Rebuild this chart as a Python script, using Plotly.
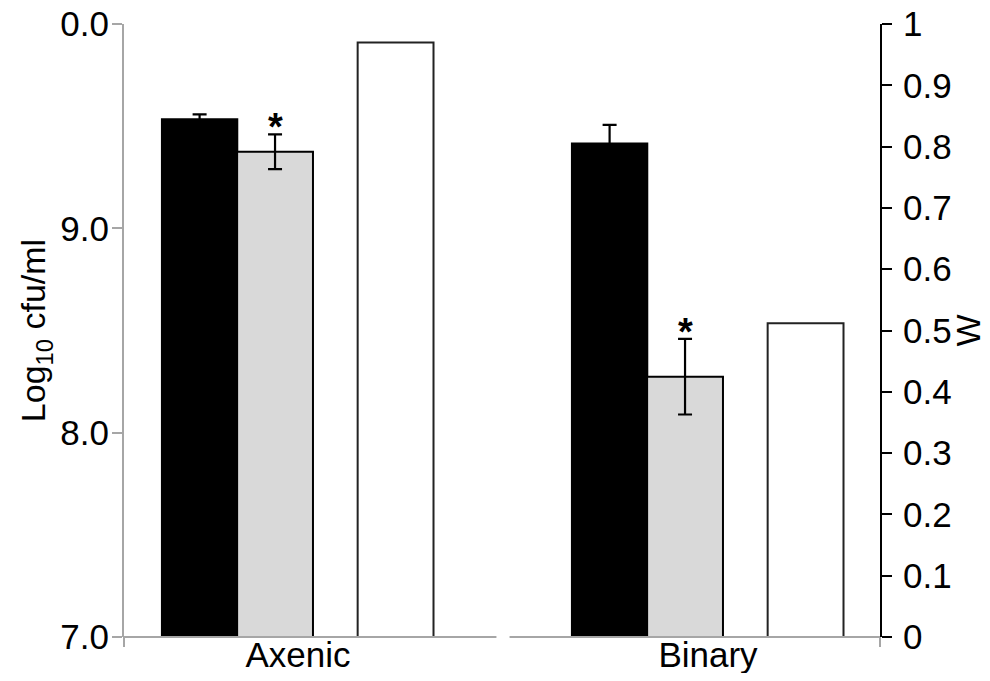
import plotly.graph_objects as go

groups = ["Axenic", "Binary"]
black_vals = [9.535, 9.416]
black_err = [0.023, 0.09]
gray_vals = [9.375, 8.274]
gray_err = [0.085, 0.185]
white_w = [0.97, 0.512]
left_tickvals = [7, 8, 9, 10]
left_ticktext = ["7.0", "8.0", "9.0", "0.0"]
right_tickvals = [0, 0.1, 0.2, 0.3, 0.4, 0.5, 0.6, 0.7, 0.8, 0.9, 1]
right_ticktext = ["0", "0.1", "0.2", "0.3", "0.4", "0.5", "0.6", "0.7", "0.8", "0.9", "1"]
left_title = "Log<sub>10</sub> cfu/ml"
right_title = "W"

# layout offsets within each group (in group units)
OFF_BLACK, OFF_GRAY, OFF_WHITE = -0.240, -0.056, 0.238
BW = 0.185
FONT = "Liberation Sans, Arial, sans-serif"
GRAYLINE = "#a6a6a6"
BASE = 7

xg = list(range(len(groups)))
fig = go.Figure()
fig.add_trace(go.Bar(
    x=[g + OFF_BLACK for g in xg], y=[v - BASE for v in black_vals], base=[BASE] * len(xg),
    width=BW,
    marker=dict(color="black", line=dict(color="black", width=1.5)),
    error_y=dict(type="data", array=black_err, color="black", thickness=2.2, width=7),
    yaxis="y", showlegend=False))
fig.add_trace(go.Bar(
    x=[g + OFF_GRAY for g in xg], y=[v - BASE for v in gray_vals], base=[BASE] * len(xg),
    width=BW,
    marker=dict(color="#d9d9d9", line=dict(color="black", width=2)),
    error_y=dict(type="data", array=gray_err, color="black", thickness=2.2, width=7),
    yaxis="y", showlegend=False))
fig.add_trace(go.Bar(
    x=[g + OFF_WHITE for g in xg], y=white_w, width=BW,
    marker=dict(color="white", line=dict(color="#222222", width=2)),
    yaxis="y2", showlegend=False))

# significance asterisks
for g, v, e in zip(xg, gray_vals, gray_err):
    fig.add_annotation(x=g + OFF_GRAY, y=v + e, xref="x", yref="y", text="<b>*</b>",
                       showarrow=False, yanchor="bottom", yshift=-16,
                       font=dict(family=FONT, size=38, color="black"))

# right axis title
fig.add_annotation(x=1, y=0.5, xref="paper", yref="paper", text=right_title,
                   textangle=-90, showarrow=False, xanchor="center", yanchor="middle",
                   xshift=87, font=dict(family=FONT, size=34, color="black"))

fig.update_layout(
    width=974, height=665,
    margin=dict(l=116, r=102, t=16, b=36),
    paper_bgcolor="white", plot_bgcolor="white",
    font=dict(family=FONT, size=34, color="black"),
    xaxis=dict(range=[-0.4244, 1.4195], tickvals=xg, ticktext=groups,
               showline=False, showgrid=False, zeroline=False, ticks="",
               tickfont=dict(size=35), automargin=False, ticklabelstandoff=-6,
               ticklabeloverflow="allow"),
    yaxis=dict(range=[7, 10], tickvals=left_tickvals, ticktext=left_ticktext,
               showline=True, linecolor=GRAYLINE, linewidth=2,
               ticks="outside", ticklen=10, tickwidth=2, tickcolor=GRAYLINE,
               showgrid=False, zeroline=False, automargin=False,
               tickfont=dict(size=35), ticklabelstandoff=-4, ticklabeloverflow="allow",
               title=dict(text=left_title, font=dict(size=34), standoff=4)),
    yaxis2=dict(range=[0, 1], tickvals=right_tickvals, ticktext=right_ticktext,
                overlaying="y", side="right", anchor="x",
                showline=True, linecolor="black", linewidth=2,
                ticks="outside", ticklen=10, tickwidth=2, tickcolor="black",
                showgrid=False, zeroline=False, automargin=False,
                tickfont=dict(size=35), ticklabelstandoff=4, ticklabeloverflow="allow"),
)

# x axis baseline with a break between groups, and axis extensions below baseline
ext = -10 / 613
fig.add_shape(type="line", xref="x", yref="paper", x0=-0.4244, x1=0.5 - 0.016, y0=0, y1=0,
              line=dict(color=GRAYLINE, width=2))
fig.add_shape(type="line", xref="x", yref="paper", x0=0.5 + 0.016, x1=1.4195, y0=0, y1=0,
              line=dict(color=GRAYLINE, width=2))
fig.add_shape(type="line", xref="paper", yref="paper", x0=0, x1=0, y0=ext, y1=0,
              line=dict(color=GRAYLINE, width=2))
fig.add_shape(type="line", xref="paper", yref="paper", x0=1, x1=1, y0=ext, y1=0,
              line=dict(color=GRAYLINE, width=2))

fig.write_html("out.html")
